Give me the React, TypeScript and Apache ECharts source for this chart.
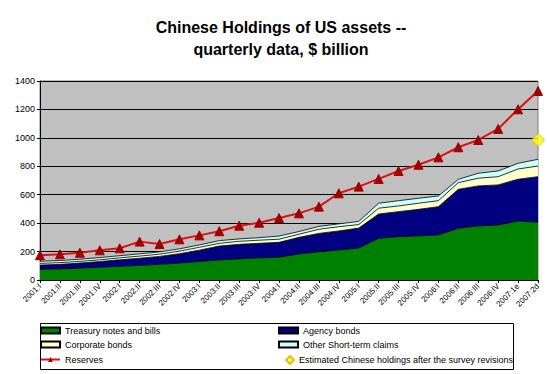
import React, { useEffect, useRef } from "react";
import * as echarts from "echarts";

const categories = [
  "2001:I", "2001:II", "2001:III", "2001:IV",
  "2002:I", "2002:II", "2002:III", "2002:IV",
  "2003:I", "2003:II", "2003:III", "2003:IV",
  "2004:I", "2004:II", "2004:III", "2004:IV",
  "2005:I", "2005:II", "2005:III", "2005:IV",
  "2006:I", "2006:II", "2006:III", "2006:IV",
  "2007:1e", "2007:2d",
];

const treasury = [75, 78, 83, 90, 96, 103, 110, 119, 130, 141, 148, 155, 160, 183, 199, 211, 225, 293, 305, 310, 317, 364, 380, 387, 415, 406];
const agency = [30, 32, 36, 40, 46, 50, 56, 66, 80, 98, 103, 103, 105, 117, 129, 134, 140, 171, 176, 187, 199, 274, 282, 282, 294, 321];
const corporate = [12, 12, 12, 12, 14, 15, 16, 18, 20, 19, 21, 22, 22, 22, 29, 30, 25, 41, 40, 43, 42, 47, 54, 58, 72, 75];
const otherShort = [15, 15, 15, 16, 15, 16, 16, 16, 17, 19, 17, 18, 22, 19, 20, 20, 22, 35, 37, 35, 33, 23, 35, 40, 40, 47];
const reserves = [174, 181, 192, 209, 223, 270, 253, 286, 314, 343, 382, 403, 436, 469, 516, 610, 657, 711, 767, 811, 863, 934, 985, 1063, 1201, 1330];
const estimated: (number | null)[] = [
  null, null, null, null, null, null, null, null, null, null, null, null, null,
  null, null, null, null, null, null, null, null, null, null, null, null, 985,
];

const yTicks = { min: 0, max: 1400, interval: 200 };

const S_TREAS = "Treasury notes and bills";
const S_AGENCY = "Agency bonds";
const S_CORP = "Corporate bonds";
const S_OTHER = "Other Short-term claims";
const S_RES = "Reserves";
const S_EST = "Estimated Chinese holdings after the survey revisions";

export default function App() {
  const ref = useRef<HTMLDivElement>(null);
  useEffect(() => {
    if (!ref.current) return;
    const chart = echarts.init(ref.current, undefined, { renderer: "svg" });
    const font = "Arial, 'Liberation Sans', sans-serif";
    const areaSeries = (name: string, data: number[], color: string) => ({
      name,
      type: "line",
      stack: "holdings",
      data,
      symbol: "none",
      lineStyle: { color: "#000", width: 0.8 },
      itemStyle: { color, borderColor: "#000", borderWidth: 1 },
      areaStyle: { color, opacity: 1 },
      z: 2,
    });
    const legendText = { fontSize: 9, color: "#000", fontFamily: font };
    const oneLegend = (name: string, left: number, top: number, extra: any = {}) => ({
      orient: "horizontal",
      left,
      top,
      padding: 0,
      itemWidth: 19,
      itemHeight: 6,
      itemGap: 0,
      textStyle: legendText,
      data: [{ name, icon: "rect" }],
      ...extra,
    });
    chart.setOption({
      animation: false,
      backgroundColor: "#fff",
      title: {
        text: "Chinese Holdings of US assets --\nquarterly data, $ billion",
        left: 276,
        textAlign: "center",
        top: 11,
        textStyle: {
          fontSize: 16,
          fontWeight: "bold",
          fontFamily: font,
          color: "#000",
          lineHeight: 22,
        },
      },
      grid: {
        left: 40,
        right: 9,
        top: 81,
        bottom: 94,
        show: true,
        backgroundColor: "#C0C0C0",
        borderColor: "#808080",
        borderWidth: 1,
      },
      legend: [
        oneLegend(S_TREAS, 40, 326),
        oneLegend(S_CORP, 40, 340),
        oneLegend(S_RES, 40, 355, { data: [{ name: S_RES }] }),
        oneLegend(S_AGENCY, 278, 326),
        oneLegend(S_OTHER, 278, 340),
        oneLegend(S_EST, 285, 355, {
          itemWidth: 8,
          itemHeight: 8,
          data: [{ name: S_EST, icon: "diamond" }],
        }),
      ],
      graphic: [
        {
          type: "rect",
          shape: { x: 40.5, y: 323.5, width: 473, height: 46 },
          style: { fill: "none", stroke: "#000", lineWidth: 1 },
          silent: true,
        },
      ],
      xAxis: {
        type: "category",
        data: categories,
        boundaryGap: false,
        axisLine: { lineStyle: { color: "#000", width: 1 } },
        axisTick: { show: true, interval: 0, length: 3, lineStyle: { color: "#000" } },
        axisLabel: {
          interval: 0,
          rotate: 45,
          fontSize: 8,
          color: "#000",
          fontFamily: font,
          margin: 5,
        },
        splitLine: { show: false },
      },
      yAxis: {
        type: "value",
        min: yTicks.min,
        max: yTicks.max,
        interval: yTicks.interval,
        axisLine: { show: true, lineStyle: { color: "#000", width: 1 } },
        axisTick: { show: true, length: 3, lineStyle: { color: "#000" } },
        axisLabel: {
          fontSize: 9,
          color: "#000",
          fontFamily: font,
          margin: 5,
          formatter: (v: number) => String(v),
        },
        splitLine: { show: true, lineStyle: { color: "#000", width: 1 } },
      },
      series: [
        areaSeries(S_TREAS, treasury, "#008000"),
        areaSeries(S_AGENCY, agency, "#000080"),
        areaSeries(S_CORP, corporate, "#FFFFCC"),
        areaSeries(S_OTHER, otherShort, "#CCFFFF"),
        {
          name: S_RES,
          type: "line",
          data: reserves,
          symbol: "triangle",
          symbolSize: 9,
          lineStyle: { color: "#DD1111", width: 2 },
          itemStyle: { color: "#A00000", borderColor: "#A00000" },
          z: 5,
        },
        {
          name: S_EST,
          type: "scatter",
          data: estimated,
          symbol: "diamond",
          symbolSize: 13,
          itemStyle: { color: "#FFFF00", borderColor: "#D4B000", borderWidth: 1 },
          z: 6,
        },
      ],
    });
    return () => chart.dispose();
  }, []);
  return (
    <div
      ref={ref}
      style={{ position: "fixed", left: 0, top: 0, width: 547, height: 374 }}
    />
  );
}
